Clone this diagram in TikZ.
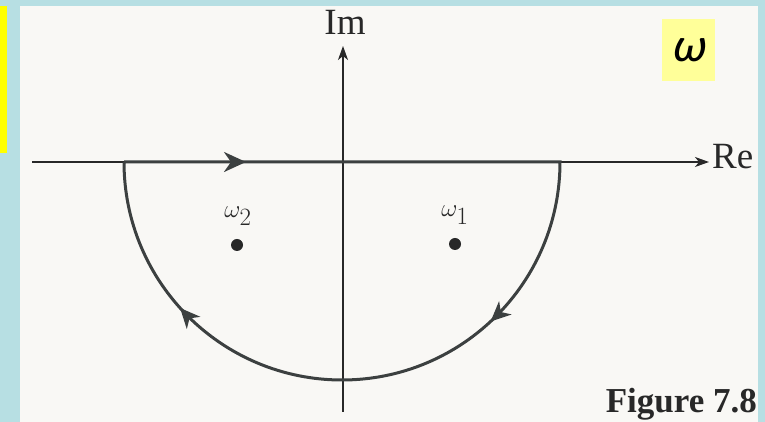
\documentclass[tikz,border=0pt]{standalone}
\usepackage{fontspec}
\setmainfont{Liberation Serif}
\newfontfamily\sketchsans[FakeSlant=0.2]{Carlito}
\usetikzlibrary{arrows.meta, decorations.markings}
\definecolor{frameblue}{RGB}{183,223,227}
\definecolor{stripyellow}{RGB}{255,255,0}
\definecolor{boxyellow}{RGB}{255,255,153}
\definecolor{paper}{RGB}{249,248,245}
\definecolor{inkgray}{RGB}{40,40,40}
\definecolor{contourgray}{RGB}{60,64,64}
\begin{document}
\begin{tikzpicture}[
    x=1pt, y=1pt,
    axis/.style={
      draw=inkgray,
      line width=1.4pt,
      -{Stealth[length=14pt, width=10pt, inset=4pt]}
    },
    contour/.style={
      draw=contourgray,
      line width=3pt,
      postaction=decorate,
      decoration={markings,
        mark=at position 122pt with {\arrow{Stealth[length=22pt, width=20pt, inset=7pt]}},
        mark=at position 615pt with {\arrow{Stealth[length=20pt, width=18pt, inset=6pt]}},
        mark=at position 961pt with {\arrow{Stealth[length=20pt, width=18pt, inset=6pt]}}}
    },
    pole/.style={circle, fill=inkgray, inner sep=0pt, minimum size=12pt},
    polelabel/.style={font=\fontsize{36}{38}\selectfont, text=inkgray},
    axislabel/.style={font=\fontsize{37}{40}\selectfont, text=inkgray, inner sep=2pt}
  ]
    \useasboundingbox (0,0) rectangle (765,422);
    \clip (0,0) rectangle (765,422);
    \fill[frameblue] (0,0) rectangle (765,422);
    \fill[paper] (20,0) rectangle (758,416);
    \fill[stripyellow] (0,269) rectangle (7,416);

    \node[axislabel, anchor=base west] (re) at (710,253) {Re};
    \node[axislabel, anchor=base] (im) at (345,387) {Im};
    \coordinate (rewest) at (32,260);
    \coordinate (retip) at (709,260);
    \coordinate (imsouth) at (343,10);
    \coordinate (imtip) at (343,376);
    \draw[axis] (rewest) -- (retip);
    \draw[axis] (imsouth) -- (imtip);

    \coordinate (cl) at (124,260);
    \coordinate (cr) at (560,260);
    \draw[contour] (cl) -- (cr) arc[start angle=0, end angle=-180, radius=218];

    \node[pole] (w2) at (237,177) {};
    \node[pole] (w1) at (455,178) {};
    \node[polelabel] (w2label) at (238,206) {$\omega_2$};
    \node[polelabel] (w1label) at (455,207) {$\omega_1$};

    \node[fill=boxyellow, minimum width=53pt, minimum height=62pt, inner sep=0pt,
      font=\sketchsans\fontsize{48}{50}\selectfont] (wbox) at (688.5,372) {ω};
    \node[font=\bfseries\fontsize{35}{38}\selectfont, text=inkgray, anchor=base east,
      inner sep=0pt] (fig) at (757,9) {Figure 7.8};
  \end{tikzpicture}
\end{document}
